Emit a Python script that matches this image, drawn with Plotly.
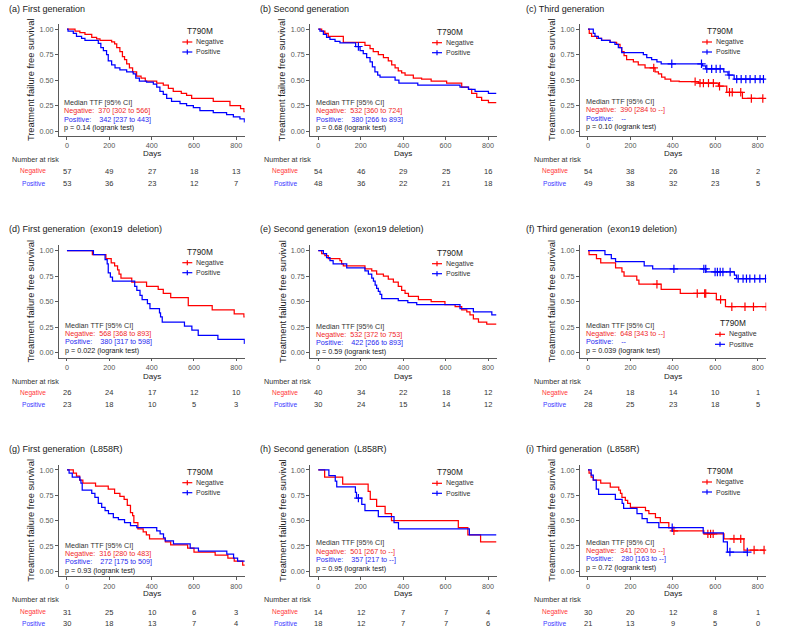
import plotly.graph_objects as go

W, H = 793, 628
FONT = "Liberation Sans, Arial, sans-serif"
RED = "#FF0000"
BLUE = "#0000FF"
RED_T = "#F02828"
BLUE_T = "#2828F0"

# ---------------- data ----------------
titles = ["(a) First generation", "(b) Second generation", "(c) Third generation",
          "(d) First generation  (exon19  deletion)", "(e) Second generation  (exon19 deletion)",
          "(f) Third generation  (exon19 deletion)",
          "(g) First generation  (L858R)", "(h) Second generation  (L858R)", "(i) Third generation  (L858R)"]

risk_times = [0, 200, 400, 600, 800]
risk_neg = [[57, 49, 27, 18, 13], [54, 46, 29, 25, 16], [54, 38, 26, 18, 2],
            [26, 24, 17, 12, 10], [40, 34, 22, 18, 12], [24, 18, 14, 10, 1],
            [31, 25, 10, 6, 3], [14, 12, 7, 7, 4], [30, 20, 12, 8, 1]]
risk_pos = [[53, 36, 23, 12, 7], [48, 36, 22, 21, 18], [49, 38, 32, 23, 5],
            [23, 18, 10, 5, 3], [30, 24, 15, 14, 12], [28, 25, 23, 18, 5],
            [30, 18, 13, 7, 4], [18, 12, 7, 7, 6], [21, 13, 9, 5, 0]]

median_neg = ["370 [302 to 566]", "532 [360 to 724]", "390 [284 to --]",
              "568 [368 to 893]", "532 [372 to 753]", "648 [343 to --]",
              "316 [280 to 483]", "501 [267 to --]", "341 [200 to --]"]
median_pos = ["342 [237 to 443]", "380 [266 to 893]", "--",
              "380 [317 to 598]", "422 [266 to 893]", "--",
              "272 [175 to 509]", "357 [217 to --]", "280 [163 to --]"]
p_values = ["0.14", "0.68", "0.10", "0.022", "0.59", "0.039", "0.93", "0.95", "0.72"]

# (a)
a_neg_t = [38, 61, 85, 117, 140, 156, 211, 225, 235, 250, 262, 272, 282, 295, 310, 329, 350, 370, 424, 455, 479, 502, 540, 565, 589, 691, 770, 820, 836]
a_neg_s = [0.98, 0.967, 0.95, 0.92, 0.905, 0.89, 0.875, 0.856, 0.82, 0.78, 0.73, 0.70, 0.66, 0.62, 0.58, 0.54, 0.52, 0.49, 0.47, 0.45, 0.42, 0.39, 0.37, 0.35, 0.32, 0.29, 0.25, 0.22, 0.19]
a_pos_t = [5, 30, 45, 69, 85, 148, 160, 172, 187, 195, 211, 227, 250, 282, 313, 325, 342, 376, 408, 424, 439, 455, 471, 494, 534, 565, 597, 628, 691, 754, 786, 817, 838]
a_pos_s = [0.98, 0.96, 0.93, 0.91, 0.89, 0.86, 0.82, 0.79, 0.75, 0.69, 0.65, 0.62, 0.60, 0.58, 0.56, 0.52, 0.49, 0.48, 0.46, 0.43, 0.39, 0.36, 0.32, 0.29, 0.27, 0.25, 0.23, 0.20, 0.18, 0.16, 0.14, 0.12, 0.09]
a_neg_c, a_pos_c = [], []
a_neg_end, a_pos_end = 840, 840

# (b)
b_neg_t = [16, 31, 47, 118, 220, 244, 259, 283, 307, 330, 346, 362, 377, 393, 409, 448, 487, 532, 605, 676, 708, 723, 747, 770, 802]
b_neg_s = [0.98, 0.96, 0.93, 0.87, 0.84, 0.81, 0.78, 0.75, 0.72, 0.69, 0.65, 0.62, 0.59, 0.57, 0.55, 0.52, 0.51, 0.49, 0.47, 0.43, 0.41, 0.37, 0.33, 0.30, 0.28]
b_pos_t = [8, 24, 39, 55, 79, 102, 176, 197, 212, 228, 244, 255, 267, 280, 291, 362, 380, 469, 668, 708, 739, 802]
b_pos_s = [0.98, 0.95, 0.92, 0.90, 0.88, 0.866, 0.83, 0.79, 0.76, 0.72, 0.68, 0.63, 0.58, 0.55, 0.53, 0.50, 0.47, 0.45, 0.43, 0.41, 0.39, 0.37]
b_neg_c, b_pos_c = [], [189]
b_neg_end, b_pos_end = 840, 840

# (c)
c_neg_t = [6, 17, 41, 64, 104, 135, 151, 159, 170, 182, 214, 237, 269, 316, 332, 347, 363, 390, 430, 520, 615, 654, 728]
c_neg_s = [0.96, 0.93, 0.91, 0.89, 0.87, 0.85, 0.82, 0.78, 0.74, 0.70, 0.68, 0.65, 0.62, 0.58, 0.56, 0.53, 0.51, 0.49, 0.485, 0.47, 0.44, 0.38, 0.32]
c_pos_t = [25, 33, 49, 64, 104, 127, 143, 159, 261, 277, 300, 325, 345, 540, 555, 640, 660, 689]
c_pos_s = [0.96, 0.93, 0.91, 0.89, 0.87, 0.85, 0.82, 0.77, 0.75, 0.72, 0.70, 0.68, 0.66, 0.64, 0.61, 0.58, 0.55, 0.51]
c_neg_c = [310, 505, 528, 544, 568, 591, 620, 667, 680, 720, 770, 824]
c_pos_c = [395, 535, 560, 583, 604, 623, 665, 701, 722, 744, 764, 788, 811, 827]
c_neg_end, c_pos_end = 824, 827

# (d)
d_neg_t = [120, 184, 209, 225, 239, 246, 255, 306, 376, 431, 455, 490, 573, 686, 790, 836]
d_neg_s = [0.96, 0.92, 0.88, 0.85, 0.81, 0.77, 0.73, 0.69, 0.65, 0.62, 0.58, 0.54, 0.46, 0.42, 0.38, 0.35]
d_pos_t = [125, 180, 190, 195, 205, 215, 320, 330, 345, 355, 380, 392, 437, 442, 450, 555, 590, 620, 713, 838]
d_pos_s = [0.96, 0.91, 0.87, 0.78, 0.74, 0.70, 0.65, 0.61, 0.56, 0.52, 0.48, 0.43, 0.39, 0.35, 0.30, 0.26, 0.22, 0.17, 0.13, 0.09]
d_neg_c, d_pos_c = [], []
d_neg_end, d_pos_end = 840, 840

# (e)
e_neg_t = [16, 31, 47, 102, 110, 118, 220, 252, 275, 307, 330, 354, 377, 393, 409, 425, 472, 532, 597, 645, 676, 700, 715, 731, 755, 794]
e_neg_s = [0.97, 0.95, 0.92, 0.90, 0.87, 0.85, 0.82, 0.80, 0.77, 0.75, 0.72, 0.69, 0.65, 0.61, 0.58, 0.55, 0.52, 0.50, 0.47, 0.45, 0.42, 0.40, 0.37, 0.33, 0.30, 0.28]
e_pos_t = [24, 39, 55, 70, 134, 220, 236, 252, 260, 268, 275, 283, 291, 299, 377, 422, 464, 668, 731, 818]
e_pos_s = [0.97, 0.93, 0.90, 0.87, 0.83, 0.80, 0.77, 0.73, 0.70, 0.66, 0.63, 0.60, 0.57, 0.53, 0.51, 0.49, 0.47, 0.43, 0.40, 0.37]
e_neg_c, e_pos_c = [], []
e_neg_end, e_pos_end = 840, 840

# (f)
f_neg_t = [5, 40, 60, 130, 160, 170, 230, 240, 345, 435, 605, 648]
f_neg_s = [0.96, 0.92, 0.88, 0.83, 0.79, 0.75, 0.71, 0.67, 0.62, 0.58, 0.52, 0.45]
f_pos_t = [80, 110, 130, 265, 305, 556, 690, 700]
f_pos_s = [0.96, 0.92, 0.89, 0.85, 0.82, 0.79, 0.76, 0.725]
f_neg_c = [325, 515, 550, 555, 625, 678, 740, 780, 840]
f_pos_c = [405, 546, 555, 599, 610, 623, 636, 670, 708, 731, 747, 763, 786, 810, 837]
f_neg_end, f_pos_end = 840, 840

# (g)
g_neg_t = [30, 45, 60, 75, 135, 195, 225, 250, 270, 285, 300, 310, 316, 335, 360, 375, 390, 465, 490, 570, 600, 700, 760, 790, 830]
g_neg_s = [0.97, 0.94, 0.90, 0.87, 0.84, 0.81, 0.77, 0.74, 0.71, 0.65, 0.58, 0.55, 0.48, 0.42, 0.39, 0.36, 0.32, 0.29, 0.26, 0.23, 0.19, 0.16, 0.13, 0.10, 0.06]
g_pos_t = [10, 25, 61, 66, 72, 117, 132, 148, 164, 180, 196, 219, 243, 272, 300, 330, 424, 440, 456, 464, 503, 582, 621, 755, 787, 806]
g_pos_s = [0.97, 0.93, 0.90, 0.87, 0.80, 0.77, 0.73, 0.67, 0.63, 0.60, 0.57, 0.53, 0.51, 0.48, 0.45, 0.43, 0.40, 0.37, 0.33, 0.30, 0.27, 0.23, 0.20, 0.17, 0.13, 0.10]
g_neg_c, g_pos_c = [], []
g_neg_end, g_pos_end = 840, 840

# (h)
h_neg_t = [30, 115, 235, 245, 275, 315, 345, 660, 705, 765]
h_neg_s = [0.93, 0.86, 0.79, 0.71, 0.64, 0.57, 0.50, 0.43, 0.36, 0.29]
h_pos_t = [50, 80, 87, 175, 180, 205, 220, 283, 357, 378, 712]
h_pos_s = [0.944, 0.889, 0.833, 0.778, 0.722, 0.66, 0.60, 0.54, 0.48, 0.42, 0.36]
h_neg_c, h_pos_c = [], [189]
h_neg_end, h_pos_end = 840, 840

# (i)
i_neg_t = [5, 15, 25, 60, 105, 145, 153, 160, 176, 187, 200, 271, 287, 318, 341, 381, 397, 546, 641, 735]
i_neg_s = [0.97, 0.93, 0.90, 0.87, 0.83, 0.80, 0.77, 0.73, 0.70, 0.67, 0.63, 0.60, 0.57, 0.53, 0.48, 0.43, 0.40, 0.37, 0.32, 0.21]
i_pos_t = [15, 25, 39, 50, 129, 161, 168, 231, 255, 279, 334, 543, 638, 657]
i_pos_s = [0.95, 0.90, 0.81, 0.76, 0.71, 0.67, 0.62, 0.57, 0.52, 0.48, 0.43, 0.38, 0.29, 0.19]
i_neg_c = [405, 565, 578, 590, 688, 720, 783, 830]
i_pos_c = [397, 669, 751]
i_neg_end, i_pos_end = 830, 751

curves = [
    (a_neg_t, a_neg_s, a_neg_c, a_neg_end, a_pos_t, a_pos_s, a_pos_c, a_pos_end),
    (b_neg_t, b_neg_s, b_neg_c, b_neg_end, b_pos_t, b_pos_s, b_pos_c, b_pos_end),
    (c_neg_t, c_neg_s, c_neg_c, c_neg_end, c_pos_t, c_pos_s, c_pos_c, c_pos_end),
    (d_neg_t, d_neg_s, d_neg_c, d_neg_end, d_pos_t, d_pos_s, d_pos_c, d_pos_end),
    (e_neg_t, e_neg_s, e_neg_c, e_neg_end, e_pos_t, e_pos_s, e_pos_c, e_pos_end),
    (f_neg_t, f_neg_s, f_neg_c, f_neg_end, f_pos_t, f_pos_s, f_pos_c, f_pos_end),
    (g_neg_t, g_neg_s, g_neg_c, g_neg_end, g_pos_t, g_pos_s, g_pos_c, g_pos_end),
    (h_neg_t, h_neg_s, h_neg_c, h_neg_end, h_pos_t, h_pos_s, h_pos_c, h_pos_end),
    (i_neg_t, i_neg_s, i_neg_c, i_neg_end, i_pos_t, i_pos_s, i_pos_c, i_pos_end),
]

# ---------------- layout geometry (pixels) ----------------
col_left = [58.5, 309.8, 579.5]
col_right = [244.8, 496.5, 766.2]
row_top = [24.1, 245.4, 464.9]
row_bot = [136.1, 357.8, 576.4]
title_x = [7, 258.3, 524]
title_y = [9, 229, 449.3]
days_y = [153.3, 376, 593.7]
nar_x = [9.5, 262, 531.7]
lab_x = [33, 285, 554.7]
nar_y = [159.3, 381.5, 599.3]
rneg_y = [171, 392.7, 612]
rpos_y = [183, 404.3, 623.2]
leg_pos = [(182.3, 31), (432, 31.7), (702, 31), (182.3, 251.7), (432, 252.7), (715, 323.3),
           (182.3, 471.7), (432, 472.3), (702, 471)]
ann_pos = [(62.3, 102.3), (314, 102.3), (584.3, 101.3), (62.7, 325), (314, 326), (584.3, 325),
           (62.7, 545), (314, 542.7), (584, 542)]


def px(x):
    return x / W


def py(y):
    return 1 - y / H


def surv_at(ts, ss, t):
    s = 1.0
    for ti, si in zip(ts, ss):
        if ti <= t:
            s = si
    return s


fig = go.Figure()
annotations = []
shapes = []
layout_axes = {}
NB = "\u00a0"
AXC = "#5a5a5a"

for i in range(9):
    r, c = divmod(i, 3)
    xa = "x" if i == 0 else f"x{i+1}"
    ya = "y" if i == 0 else f"y{i+1}"
    xkey = "xaxis" if i == 0 else f"xaxis{i+1}"
    ykey = "yaxis" if i == 0 else f"yaxis{i+1}"
    axis_common = dict(showline=True, linecolor=AXC, linewidth=1, ticks="outside",
                       ticklen=2.5, tickwidth=1, tickcolor=AXC, showgrid=False,
                       zeroline=False, tickfont=dict(family=FONT, size=7.2, color="#555555"))
    layout_axes[xkey] = dict(domain=[px(col_left[c]), px(col_right[c])], anchor=ya,
                             range=[-40, 840], tickvals=risk_times, **axis_common)
    layout_axes[ykey] = dict(domain=[py(row_bot[r]), py(row_top[r])], anchor=xa,
                             range=[-0.05, 1.05], tickvals=[0, 0.25, 0.5, 0.75, 1.0],
                             ticktext=["0.00", "0.25", "0.50", "0.75", "1.00"], **axis_common)

    nt, ns, nc, nend, pt, ps, pc, pend = curves[i]
    for ts, ss, cs, end, col in [(nt, ns, nc, nend, RED), (pt, ps, pc, pend, BLUE)]:
        fig.add_trace(go.Scatter(x=[0] + ts + [end], y=[1.0] + ss + [ss[-1]], mode="lines",
                                 line=dict(color=col, width=1.25, shape="hv"),
                                 xaxis=xa, yaxis=ya, showlegend=False, hoverinfo="skip"))
        if cs:
            fig.add_trace(go.Scatter(x=cs, y=[surv_at(ts, ss, t) for t in cs], mode="markers",
                                     marker=dict(symbol="cross-thin", size=6,
                                                 line=dict(color=col, width=1.2)),
                                     xaxis=xa, yaxis=ya, showlegend=False, hoverinfo="skip"))

    # title
    annotations.append(dict(x=px(title_x[c]), y=py(title_y[r]), xref="paper", yref="paper",
                            text=titles[i], showarrow=False, xanchor="left", yanchor="middle",
                            font=dict(family=FONT, size=9, color="#222222")))
    # y title
    annotations.append(dict(x=px(col_left[c] - 27.5), y=py((row_top[r] + row_bot[r]) / 2),
                            xref="paper", yref="paper", text="Treatment failure free survival",
                            textangle=-90, showarrow=False, xanchor="center", yanchor="middle",
                            font=dict(family=FONT, size=9.3, color="#222222")))
    # x title
    annotations.append(dict(x=px((col_left[c] + col_right[c]) / 2), y=py(days_y[r]),
                            xref="paper", yref="paper", text="Days", showarrow=False,
                            xanchor="center", yanchor="middle",
                            font=dict(family=FONT, size=8, color="#222222")))
    # risk table
    annotations.append(dict(x=px(nar_x[c]), y=py(nar_y[r]), xref="paper", yref="paper",
                            text="Number at risk", showarrow=False, xanchor="left",
                            yanchor="middle", font=dict(family=FONT, size=7.2, color="#333333")))
    annotations.append(dict(x=px(lab_x[c]), y=py(rneg_y[r]), xref="paper", yref="paper",
                            text="Negative", showarrow=False, xanchor="center", yanchor="middle",
                            font=dict(family=FONT, size=6.6, color="#FF3838")))
    annotations.append(dict(x=px(lab_x[c]), y=py(rpos_y[r]), xref="paper", yref="paper",
                            text="Positive", showarrow=False, xanchor="center", yanchor="middle",
                            font=dict(family=FONT, size=6.6, color="#3838FF")))
    for t, nv, pv in zip(risk_times, risk_neg[i], risk_pos[i]):
        for val, yy in [(nv, rneg_y[r]), (pv, rpos_y[r])]:
            annotations.append(dict(x=t, y=py(yy), xref=xa, yref="paper", text=str(val),
                                    showarrow=False, xanchor="center", yanchor="middle",
                                    font=dict(family=FONT, size=7.5, color="#333333")))
    # legend
    lx, ly = leg_pos[i]
    annotations.append(dict(x=px(lx + 2.5), y=py(ly), xref="paper", yref="paper", text="T790M",
                            showarrow=False, xanchor="left", yanchor="middle",
                            font=dict(family=FONT, size=8.3, color="#222222")))
    for k, (lab, col) in enumerate([("Negative", RED), ("Positive", BLUE)]):
        yy = ly + 11 + 10 * k
        shapes.append(dict(type="line", xref="paper", yref="paper", x0=px(lx), x1=px(lx + 10),
                           y0=py(yy), y1=py(yy), line=dict(color=col, width=1.2)))
        shapes.append(dict(type="line", xref="paper", yref="paper", x0=px(lx + 5), x1=px(lx + 5),
                           y0=py(yy - 2.5), y1=py(yy + 2.5), line=dict(color=col, width=1.2)))
        annotations.append(dict(x=px(lx + 11.5), y=py(yy), xref="paper", yref="paper", text=lab,
                                showarrow=False, xanchor="left", yanchor="middle",
                                font=dict(family=FONT, size=7, color="#333333")))
    # median / p-value block
    ax, ay = ann_pos[i]
    lines = [("Median TTF [95% CI]", "#333333"),
             ("Negative:" + NB * 2 + median_neg[i], RED_T),
             ("Positive:" + NB * 4 + median_pos[i], BLUE_T),
             ("p = " + p_values[i] + " (logrank test)", "#222222")]
    for k, (txt, col) in enumerate(lines):
        annotations.append(dict(x=px(ax), y=py(ay + 8.47 * k), xref="paper", yref="paper",
                                text=txt, showarrow=False, xanchor="left", yanchor="middle",
                                font=dict(family=FONT, size=7.2, color=col)))

fig.update_layout(width=W, height=H, margin=dict(l=0, r=0, t=0, b=0),
                  paper_bgcolor="white", plot_bgcolor="white", showlegend=False,
                  annotations=annotations, shapes=shapes, **layout_axes)
fig.write_html("out.html", config={"displayModeBar": False, "staticPlot": True},
               post_script="document.body.style.margin='0';document.body.style.overflow='hidden';")
